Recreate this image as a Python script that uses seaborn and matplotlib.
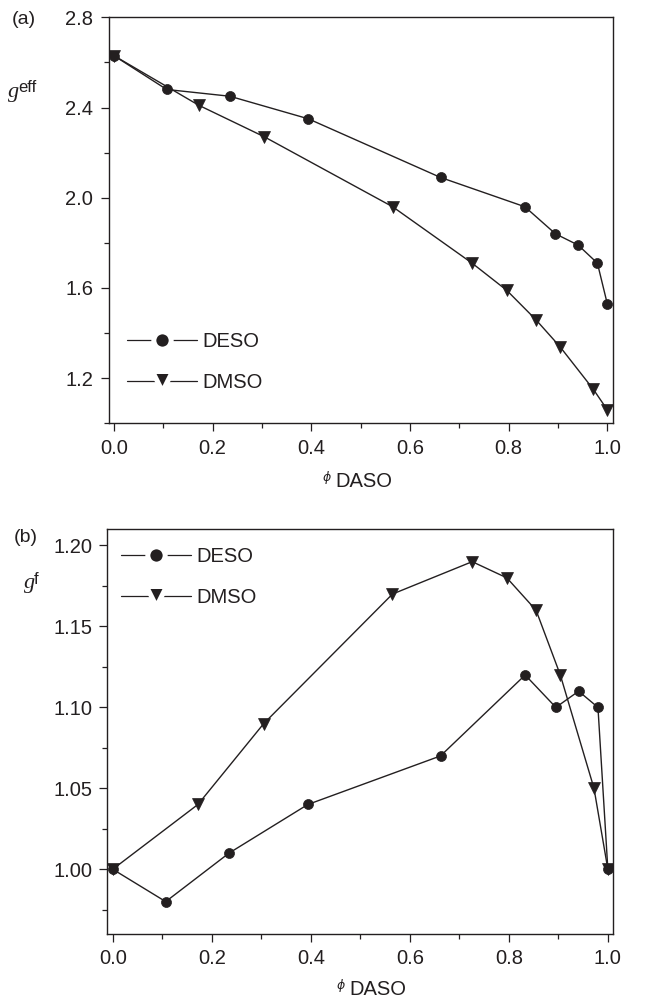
import pandas as pd
import matplotlib.pyplot as plt
import seaborn as sns
from matplotlib.lines import Line2D
from matplotlib.markers import MarkerStyle
from matplotlib.ticker import MultipleLocator, FormatStrFormatter

# DASO volume fraction for each mixture series
phi_deso = [0.0, 0.107, 0.235, 0.394, 0.662, 0.833, 0.895, 0.941, 0.980, 1.0]
phi_dmso = [0.0, 0.172, 0.305, 0.565, 0.726, 0.796, 0.855, 0.904, 0.972, 1.0]

# panel (a): g_eff
geff_deso = [2.63, 2.48, 2.45, 2.35, 2.09, 1.96, 1.84, 1.79, 1.71, 1.53]
geff_dmso = [2.63, 2.41, 2.27, 1.96, 1.71, 1.59, 1.46, 1.34, 1.15, 1.06]

# panel (b): g_f
gf_deso = [1.00, 0.98, 1.01, 1.04, 1.07, 1.12, 1.10, 1.11, 1.10, 1.00]
gf_dmso = [1.00, 1.04, 1.09, 1.17, 1.19, 1.18, 1.16, 1.12, 1.05, 1.00]

solvents = ['DESO', 'DMSO']
markers = {'DESO': 'o', 'DMSO': 'v'}

df = pd.concat([
    pd.DataFrame({'phi': phi_deso, 'geff': geff_deso, 'gf': gf_deso, 'solvent': 'DESO'}),
    pd.DataFrame({'phi': phi_dmso, 'geff': geff_dmso, 'gf': gf_dmso, 'solvent': 'DMSO'}),
], ignore_index=True)

sns.set_style('ticks')
plt.rcParams['font.family'] = ['Liberation Sans', 'DejaVu Sans']

INK = '#231f20'
W, H = 645, 999


def px(x, y):
    return x / W, 1 - y / H


fig = plt.figure(figsize=(6.45, 9.99), dpi=100)
ax1 = fig.add_axes([108.5 / W, 1 - 423.3 / H, 504.2 / W, 406.0 / H])
ax2 = fig.add_axes([107.3 / W, 1 - 934.0 / H, 506.0 / W, 404.7 / H])

for ax, col in [(ax1, 'geff'), (ax2, 'gf')]:
    sns.lineplot(data=df, x='phi', y=col, hue='solvent', style='solvent',
                 markers=markers, dashes=False, palette={s: INK for s in solvents},
                 estimator=None, sort=False, legend=False, ax=ax,
                 lw=1.0, markersize=7.2, markeredgecolor=INK, markeredgewidth=0.5)
    # triangles a touch larger, like the original
    for ln in ax.lines:
        if ln.get_marker() == 'v':
            ln.set_markersize(8.2)
    ax.set_xlim(-0.011, 1.011)
    ax.xaxis.set_major_locator(MultipleLocator(0.2))
    ax.xaxis.set_minor_locator(MultipleLocator(0.1))
    ax.xaxis.set_major_formatter(FormatStrFormatter('%.1f'))
    ax.set_xlabel('')
    ax.set_ylabel('')
    for sp in ax.spines.values():
        sp.set_visible(True)
        sp.set_linewidth(1.0)
        sp.set_color(INK)
    ax.tick_params(which='both', direction='out', color=INK, width=0.9,
                   labelsize=14.5, labelcolor=INK, top=False, right=False)
    ax.tick_params(which='major', length=6, pad=5)
    ax.tick_params(which='minor', length=3.5)

ax1.set_ylim(1.0, 2.8)
ax1.yaxis.set_major_locator(MultipleLocator(0.4))
ax1.yaxis.set_minor_locator(MultipleLocator(0.2))
ax1.yaxis.set_major_formatter(FormatStrFormatter('%.1f'))

ax2.set_ylim(0.96, 1.21)
ax2.yaxis.set_major_locator(MultipleLocator(0.05))
ax2.yaxis.set_minor_locator(MultipleLocator(0.025))
ax2.yaxis.set_major_formatter(FormatStrFormatter('%.2f'))

# legend handles with a white gap around the marker
handles = []
for s in solvents:
    handles.append(Line2D([], [], color=INK, lw=0.9,
                          marker=MarkerStyle(markers[s], joinstyle='round'),
                          ms=12.5 if s == 'DESO' else 15, mfc=INK, mec='white', mew=3.6))

for ax, (lx, ly) in [(ax1, (127, 362)), (ax2, (121, 577))]:
    ax.legend(handles, solvents, loc='center left', bbox_to_anchor=px(lx, ly),
              bbox_transform=fig.transFigure, frameon=False, fontsize=14.5,
              handlelength=3.5, handletextpad=0.25, labelspacing=1.05,
              borderpad=0, borderaxespad=0, labelcolor=INK)

# panel letters and axis labels
fig.text(*px(12, 20), '(a)', fontsize=14, color=INK, ha='left', va='center')
fig.text(*px(14, 537), '(b)', fontsize=14, color=INK, ha='left', va='center')

fig.text(*px(8, 97), 'g', family='Liberation Serif', style='italic',
         fontsize=16, color=INK, ha='left', va='baseline')
fig.text(*px(18, 92), 'eff', fontsize=12, color=INK, ha='left', va='baseline')
fig.text(*px(24, 588), 'g', family='Liberation Serif', style='italic',
         fontsize=16, color=INK, ha='left', va='baseline')
fig.text(*px(34, 584), 'f', fontsize=12, color=INK, ha='left', va='baseline')

for x0, base in [(323, 486.7), (337, 995)]:
    fig.text(*px(x0, base - 6), '\u03d5', family=['DejaVu Sans'], style='italic',
             fontsize=9, color=INK, ha='left', va='baseline')
    fig.text(*px(x0 + 12, base), 'DASO', fontsize=14.5, color=INK,
             ha='left', va='baseline')

fig.savefig('out.png', dpi=100)
